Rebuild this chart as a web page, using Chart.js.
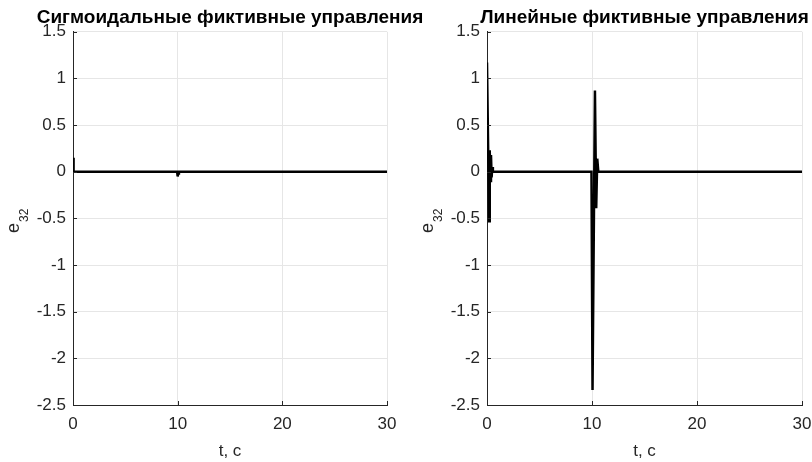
<!DOCTYPE html>
<html><head><meta charset="utf-8">
<script src="https://cdn.jsdelivr.net/npm/chart.js@4"></script>
<style>
html,body{margin:0;padding:0;background:#fff;width:812px;height:462px;overflow:hidden;position:relative;}
canvas{position:absolute;top:0;}
#c1{left:0px;}
#c2{left:400px;}
</style></head><body>
<canvas id="c1" width="460" height="462"></canvas>
<canvas id="c2" width="489" height="462"></canvas>
<script>
// ---- data ----
const titleLeft = 'Сигмоидальные фиктивные управления';
const titleRight = 'Линейные фиктивные управления';
const xLabel = 't, c';
const yLabelMain = 'e';
const yLabelSub = '32';
const xTicks = [0, 10, 20, 30];
const yTicks = [-2.5, -2, -1.5, -1, -0.5, 0, 0.5, 1, 1.5];

// sigmoid dummy controls
const tLeft = [0, 0.03, 0.08, 0.15, 9.95, 10.0, 10.05, 10.12, 30];
const eLeft = [0.15, 0.06, 0.01, 0, 0, -0.05, -0.02, 0, 0];

// linear dummy controls
const tRight = [0, 0.2, 0.26, 0.32, 0.38, 0.44, 0.5, 0.56, 9.95, 10.05, 10.28, 10.4, 10.5, 10.6, 30];
const eRight = [1.17, -0.53, 0.23, -0.1, 0.18, -0.06, 0.05, 0, 0, -2.34, 0.87, -0.39, 0.14, 0, 0];

// ---- styling ----
const AX = '#262626';
const GRID = '#e6e6e6';
const FONT = "'Liberation Sans', Arial, sans-serif";

function pts(t, v){ return t.map((x,i)=>({x:x, y:v[i]})); }

const tickMarks = {
  id:'tickMarks',
  afterDraw(chart){
    const ctx = chart.ctx, a = chart.chartArea;
    const xs = chart.scales.x, ys = chart.scales.y;
    ctx.save();
    ctx.strokeStyle = AX; ctx.lineWidth = 1;
    ctx.beginPath();
    yTicks.forEach(v=>{ const y = Math.round(ys.getPixelForValue(v))+0.5; ctx.moveTo(a.left, y); ctx.lineTo(a.left+4, y); });
    xTicks.forEach(v=>{ const x = Math.round(xs.getPixelForValue(v))+0.5; ctx.moveTo(x, a.bottom); ctx.lineTo(x, a.bottom-4); });
    ctx.stroke();
    ctx.restore();
  }
};

function yLabelPlugin(xBase, yStart){
  return {
    id:'yLabel',
    afterDraw(chart){
      const ctx = chart.ctx;
      ctx.save();
      ctx.translate(xBase, yStart);
      ctx.rotate(-Math.PI/2);
      ctx.fillStyle = AX;
      ctx.textBaseline = 'alphabetic';
      ctx.textAlign = 'left';
      ctx.font = '18px ' + FONT;
      ctx.fillText(yLabelMain, 0, 0);
      const w = ctx.measureText(yLabelMain).width;
      ctx.font = '12px ' + FONT;
      ctx.fillText(yLabelSub, w + 1, 9);
      ctx.restore();
    }
  };
}

function makeChart(id, title, t, v, yAxisWidth, rightSpace, labelX){
  return new Chart(document.getElementById(id), {
    type:'line',
    data:{ datasets:[{ data: pts(t, v), borderColor:'#000', borderWidth:2.5, pointRadius:0, tension:0, fill:false }] },
    options:{
      responsive:false, animation:false, devicePixelRatio:1,
      layout:{ padding:0 },
      plugins:{
        legend:{display:false}, tooltip:{enabled:false},
        title:{ display:true, text:title, fullSize:true, color:'#000',
                font:{ family:FONT, size:19, weight:'bold' }, padding:{top:6, bottom:3} }
      },
      scales:{
        x:{ type:'linear', min:0, max:30,
            afterBuildTicks(s){ s.ticks = xTicks.map(x=>({value:x})); },
            afterFit(s){ s.height = 57; },
            grid:{ color:GRID, drawTicks:false },
            border:{ color:AX, width:1 },
            ticks:{ color:AX, padding:9, maxRotation:0, font:{family:FONT, size:17}, callback:(val)=>String(val) },
            title:{ display:true, text:xLabel, color:AX, font:{family:FONT, size:17}, padding:{top:0, bottom:0} } },
        y:{ type:'linear', min:-2.5, max:1.5,
            afterBuildTicks(s){ s.ticks = yTicks.map(y=>({value:y})); },
            afterFit(s){ s.width = yAxisWidth; },
            grid:{ color:GRID, drawTicks:false },
            border:{ color:AX, width:1 },
            ticks:{ color:AX, padding:7, font:{family:FONT, size:17}, callback:(val)=>String(val) } },
        yspace:{ type:'linear', position:'right', min:0, max:1,
            afterFit(s){ s.width = rightSpace; },
            grid:{ display:false }, border:{ display:false }, ticks:{ display:false } }
      }
    },
    plugins:[tickMarks, yLabelPlugin(labelX, 233)]
  });
}

makeChart('c1', titleLeft, tLeft, eLeft, 73, 73, 19);
makeChart('c2', titleRight, tRight, eRight, 87, 87, 33);
</script>
</body></html>
